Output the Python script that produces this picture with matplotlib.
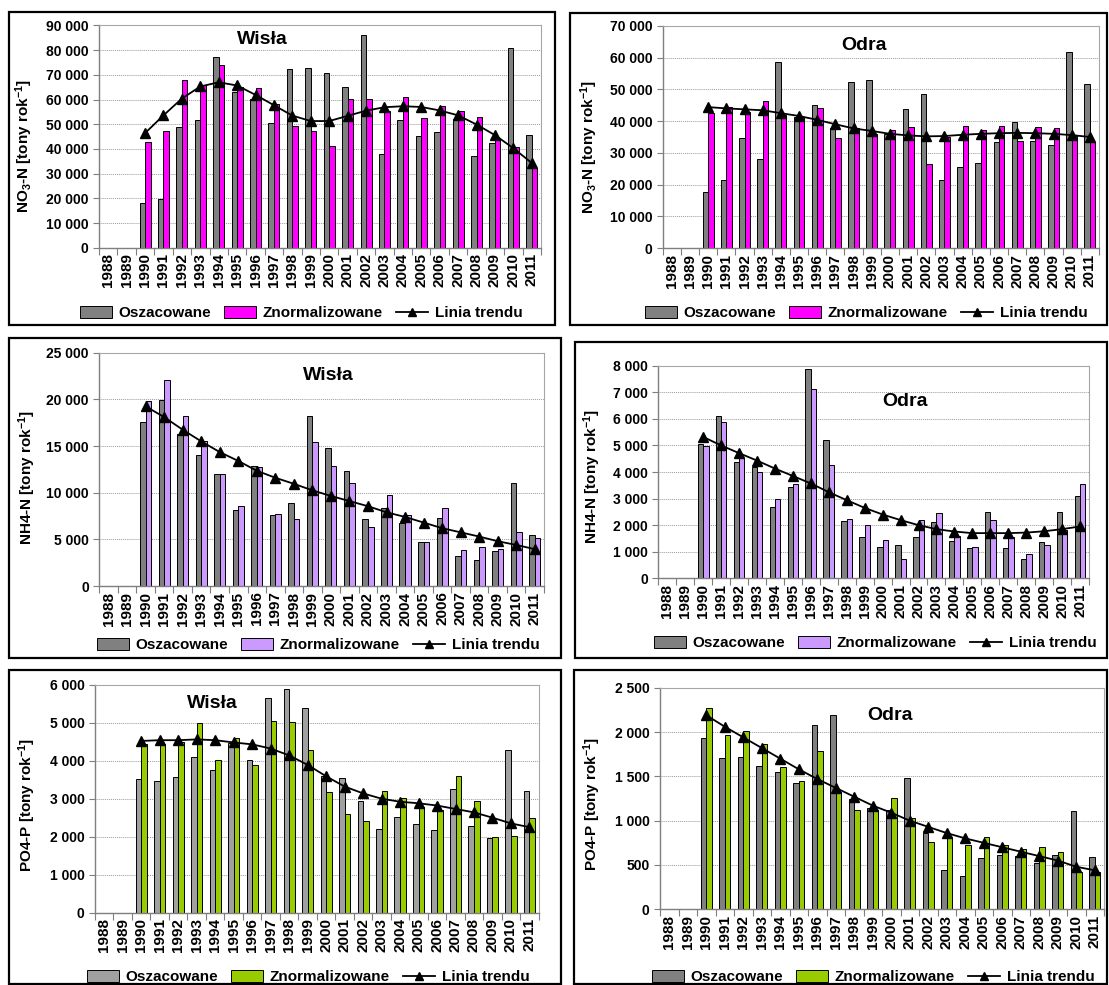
import numpy as np
import matplotlib
matplotlib.use("Agg")
import matplotlib.pyplot as plt
from matplotlib.patches import Patch, Rectangle
from matplotlib.lines import Line2D
from matplotlib.ticker import FuncFormatter, MultipleLocator

plt.rcParams.update({
    "font.family": ["Liberation Sans", "DejaVu Sans"],
    "font.weight": "bold",
    "mathtext.fontset": "custom",
    "mathtext.rm": "Liberation Sans:bold",
    "mathtext.it": "Liberation Sans:bold",
    "mathtext.bf": "Liberation Sans:bold",
    "mathtext.default": "bf",
})

# ---- data -------------------------------------------------------------
years = [str(y) for y in range(1988, 2012)]
first_data_year = 1990

legend_labels = ["Oszacowane", "Znormalizowane", "Linia trendu"]

wisla_no3_osz = [18200, 19600, 49000, 51800, 77200, 63100, 60100, 50400, 72400, 72600, 70600,
                 65200, 86000, 38000, 51700, 45200, 46800, 52200, 37100, 42600, 80900, 45700]
wisla_no3_zn = [42800, 47200, 68000, 65800, 73800, 64900, 64500, 58100, 49200, 47400, 41100,
                60200, 60200, 55200, 60900, 52400, 57400, 55200, 52800, 44400, 40900, 32300]
wisla_no3_tr = [46400, 53600, 60400, 65300, 67000, 65700, 61900, 57700, 53500, 51300, 51300,
                53400, 55500, 56900, 57300, 57000, 55600, 53600, 49900, 45600, 40300, 34300]

odra_no3_osz = [17700, 21400, 34800, 28200, 58600, 41200, 45000, 37800, 52300, 52800, 35900,
                43800, 48400, 21400, 25500, 26800, 33300, 39600, 33600, 32400, 61800, 51600]
odra_no3_zn = [42500, 44500, 43000, 46300, 41900, 41200, 44000, 34800, 37700, 36100, 37200,
               38300, 26500, 35100, 38600, 37200, 38600, 33600, 38300, 37800, 35300, 33300]
odra_no3_tr = [44400, 44000, 43700, 43400, 42500, 41600, 40400, 39000, 37700, 36900, 36000,
               35500, 35200, 35300, 35700, 36000, 36200, 36300, 36200, 36000, 35600, 35000]

wisla_nh4_osz = [17600, 19900, 16300, 14000, 12000, 8100, 12900, 7600, 8850, 18200, 14750,
                 12300, 7200, 8400, 6700, 4700, 7300, 3200, 2800, 3750, 11000, 5500]
wisla_nh4_zn = [19800, 22100, 18200, 15500, 11950, 8550, 12700, 7750, 7200, 15400, 12850,
                11000, 6300, 9800, 7600, 4750, 8400, 3900, 4200, 4000, 5800, 5150]
wisla_nh4_tr = [19250, 18100, 16750, 15500, 14350, 13400, 12350, 11600, 10950, 10250, 9650,
                9100, 8550, 7900, 7400, 6800, 6200, 5750, 5300, 4800, 4400, 3950]

odra_nh4_osz = [5050, 6100, 4390, 4200, 2700, 3440, 7890, 5220, 2150, 1540, 1160,
                1270, 1560, 2100, 1400, 1130, 2480, 1130, 710, 1360, 2480, 3110]
odra_nh4_zn = [4980, 5900, 4510, 4000, 2980, 3540, 7120, 4260, 2220, 2020, 1460,
               740, 2190, 2450, 1590, 1160, 2210, 1550, 900, 1260, 1810, 3560]
odra_nh4_tr = [5320, 5000, 4710, 4430, 4130, 3850, 3570, 3240, 2940, 2650, 2400,
               2190, 2000, 1850, 1760, 1700, 1700, 1700, 1720, 1770, 1850, 1950]

wisla_po4_osz = [3520, 3460, 3560, 4100, 3750, 4460, 4030, 5640, 5900, 5390, 3600,
                 3550, 2930, 2210, 2510, 2340, 2180, 3250, 2270, 1960, 4280, 3210]
wisla_po4_zn = [4430, 4430, 4480, 4990, 4030, 4610, 3880, 5040, 5010, 4280, 3170,
                2600, 2410, 3210, 3030, 2790, 2710, 3600, 2950, 1980, 2030, 2500]
wisla_po4_tr = [4520, 4540, 4540, 4560, 4540, 4480, 4430, 4320, 4140, 3890, 3590,
                3320, 3140, 3000, 2920, 2880, 2820, 2730, 2640, 2500, 2350, 2250]

odra_po4_osz = [1930, 1710, 1720, 1620, 1550, 1420, 2080, 2190, 1240, 1140, 1120,
                1480, 860, 440, 380, 580, 610, 600, 520, 610, 1110, 590]
odra_po4_zn = [2270, 1970, 2010, 1860, 1600, 1450, 1790, 1320, 1120, 1120, 1260,
               1030, 760, 820, 730, 820, 730, 680, 700, 650, 420, 420]
odra_po4_tr = [2190, 2060, 1940, 1820, 1700, 1580, 1470, 1370, 1270, 1170, 1090,
               1000, 930, 860, 800, 750, 700, 650, 600, 550, 480, 440]

# ---- figure -----------------------------------------------------------
W, H = 1109, 985
fig = plt.figure(figsize=(W / 100, H / 100), dpi=100)
fig.patch.set_facecolor("white")


def fx(px):
    return px / W


def fy(py):
    return 1 - py / H


def thousands(v, _pos):
    return f"{int(round(v)):,}".replace(",", " ")


def panel(box, rect, osz, zn, tr, color, gray, ylabel, ymax, step, title,
          title_xy, ylabel_xy, legend_xy):
    # outer frame of the panel
    x0, y0, x1, y1 = box
    fig.add_artist(Rectangle((fx(x0), fy(y1)), fx(x1 - x0), (y1 - y0) / H,
                             transform=fig.transFigure, fill=False,
                             edgecolor="black", linewidth=1.6, zorder=10))
    l, t, r, b = rect
    ax = fig.add_axes([fx(l), fy(b), fx(r - l), (b - t) / H])

    n = len(years)
    start = years.index(str(first_data_year))
    xs = np.arange(start, start + len(osz))
    w = 0.3
    ax.bar(xs - w / 2, osz, width=w, color=gray, edgecolor="black", linewidth=0.7, zorder=2)
    ax.bar(xs + w / 2, zn, width=w, color=color, edgecolor="black", linewidth=0.7, zorder=2)
    ax.plot(xs, tr, color="black", linewidth=1.3, marker="^", markersize=6.5, zorder=3)

    ax.set_xlim(-0.5, n - 0.5)
    ax.set_ylim(0, ymax)
    ax.yaxis.set_major_locator(MultipleLocator(step))
    ax.yaxis.set_major_formatter(FuncFormatter(thousands))
    ax.yaxis.grid(True, color="#9a9a9a", linestyle=(0, (1, 1)), linewidth=0.7)
    ax.set_axisbelow(True)

    ax.set_xticks(np.arange(-0.5, n, 1.0))
    ax.set_xticklabels([])
    ax.set_xticks(np.arange(n), minor=True)
    ax.set_xticklabels(years, minor=True, rotation=90, fontsize=11, fontweight="bold")
    ax.tick_params(axis="x", which="major", direction="out", length=5, color="#7f7f7f")
    ax.tick_params(axis="x", which="minor", length=0, pad=4)
    ax.tick_params(axis="y", direction="out", length=4, color="#7f7f7f", labelsize=10)
    for lab in ax.get_yticklabels():
        lab.set_fontweight("bold")

    for side in ("left", "bottom"):
        ax.spines[side].set_color("#7f7f7f")
        ax.spines[side].set_linewidth(1.0)
    for side in ("top", "right"):
        ax.spines[side].set_color("#a6a6a6")
        ax.spines[side].set_linewidth(0.8)

    fig.text(fx(title_xy[0]), fy(title_xy[1]), title, ha="center", va="center",
             fontsize=14, fontweight="bold")
    fig.text(fx(ylabel_xy[0]), fy(ylabel_xy[1]), ylabel, ha="center", va="center",
             rotation=90, fontsize=11, fontweight="bold")

    handles = [Patch(facecolor=gray, edgecolor="black", linewidth=0.7),
               Patch(facecolor=color, edgecolor="black", linewidth=0.7),
               Line2D([], [], color="black", linewidth=1.3, marker="^", markersize=6)]
    fig.legend(handles, legend_labels, loc="center", ncol=3, frameon=False,
               bbox_to_anchor=(fx(legend_xy[0]), fy(legend_xy[1])),
               prop={"size": 11, "weight": "bold"}, handlelength=2.1, handleheight=0.8,
               handletextpad=0.4, columnspacing=0.9, borderaxespad=0, borderpad=0)
    return ax


MAGENTA = "#ff00ff"
VIOLET = "#cc99ff"
GREEN = "#99cc00"
GRAY = "#808080"
LIGHT_GRAY = "#a0a0a0"

no3_label = r"NO$_3$-N [tony rok$^{-1}$]"
nh4_label = r"NH4-N [tony rok$^{-1}$]"
po4_label = r"PO4-P [tony rok$^{-1}$]"

panel((9, 12, 555, 325), (99, 25.5, 541, 247.7),
      wisla_no3_osz, wisla_no3_zn, wisla_no3_tr, MAGENTA, GRAY,
      no3_label, 90000, 10000, "Wisła", (262, 40), (24, 146), (301, 313))

panel((570, 13, 1107, 325), (662.7, 25.7, 1099, 248.3),
      odra_no3_osz, odra_no3_zn, odra_no3_tr, MAGENTA, GRAY,
      no3_label, 70000, 10000, "Odra", (864, 45), (589, 147), (866, 313))

panel((9, 338, 561, 658), (99.3, 352.7, 544, 586),
      wisla_nh4_osz, wisla_nh4_zn, wisla_nh4_tr, VIOLET, GRAY,
      nh4_label, 25000, 5000, "Wisła", (328, 376), (27, 477), (318, 645))

panel((575, 342, 1107, 658), (658.3, 365.7, 1089, 578.3),
      odra_nh4_osz, odra_nh4_zn, odra_nh4_tr, VIOLET, GRAY,
      nh4_label, 8000, 1000, "Odra", (905, 402), (592, 476), (875, 643))

panel((9, 670, 561, 984), (95, 684.7, 538.7, 912.7),
      wisla_po4_osz, wisla_po4_zn, wisla_po4_tr, GREEN, LIGHT_GRAY,
      po4_label, 6000, 1000, "Wisła", (212, 704), (27, 805), (308, 977))

panel((574, 670, 1107, 984), (660, 687.7, 1104, 909.3),
      odra_po4_osz, odra_po4_zn, odra_po4_tr, GREEN, GRAY,
      po4_label, 2500, 500, "Odra", (890, 716), (592, 804), (873, 977))

fig.savefig("out.png", dpi=100, facecolor="white")
